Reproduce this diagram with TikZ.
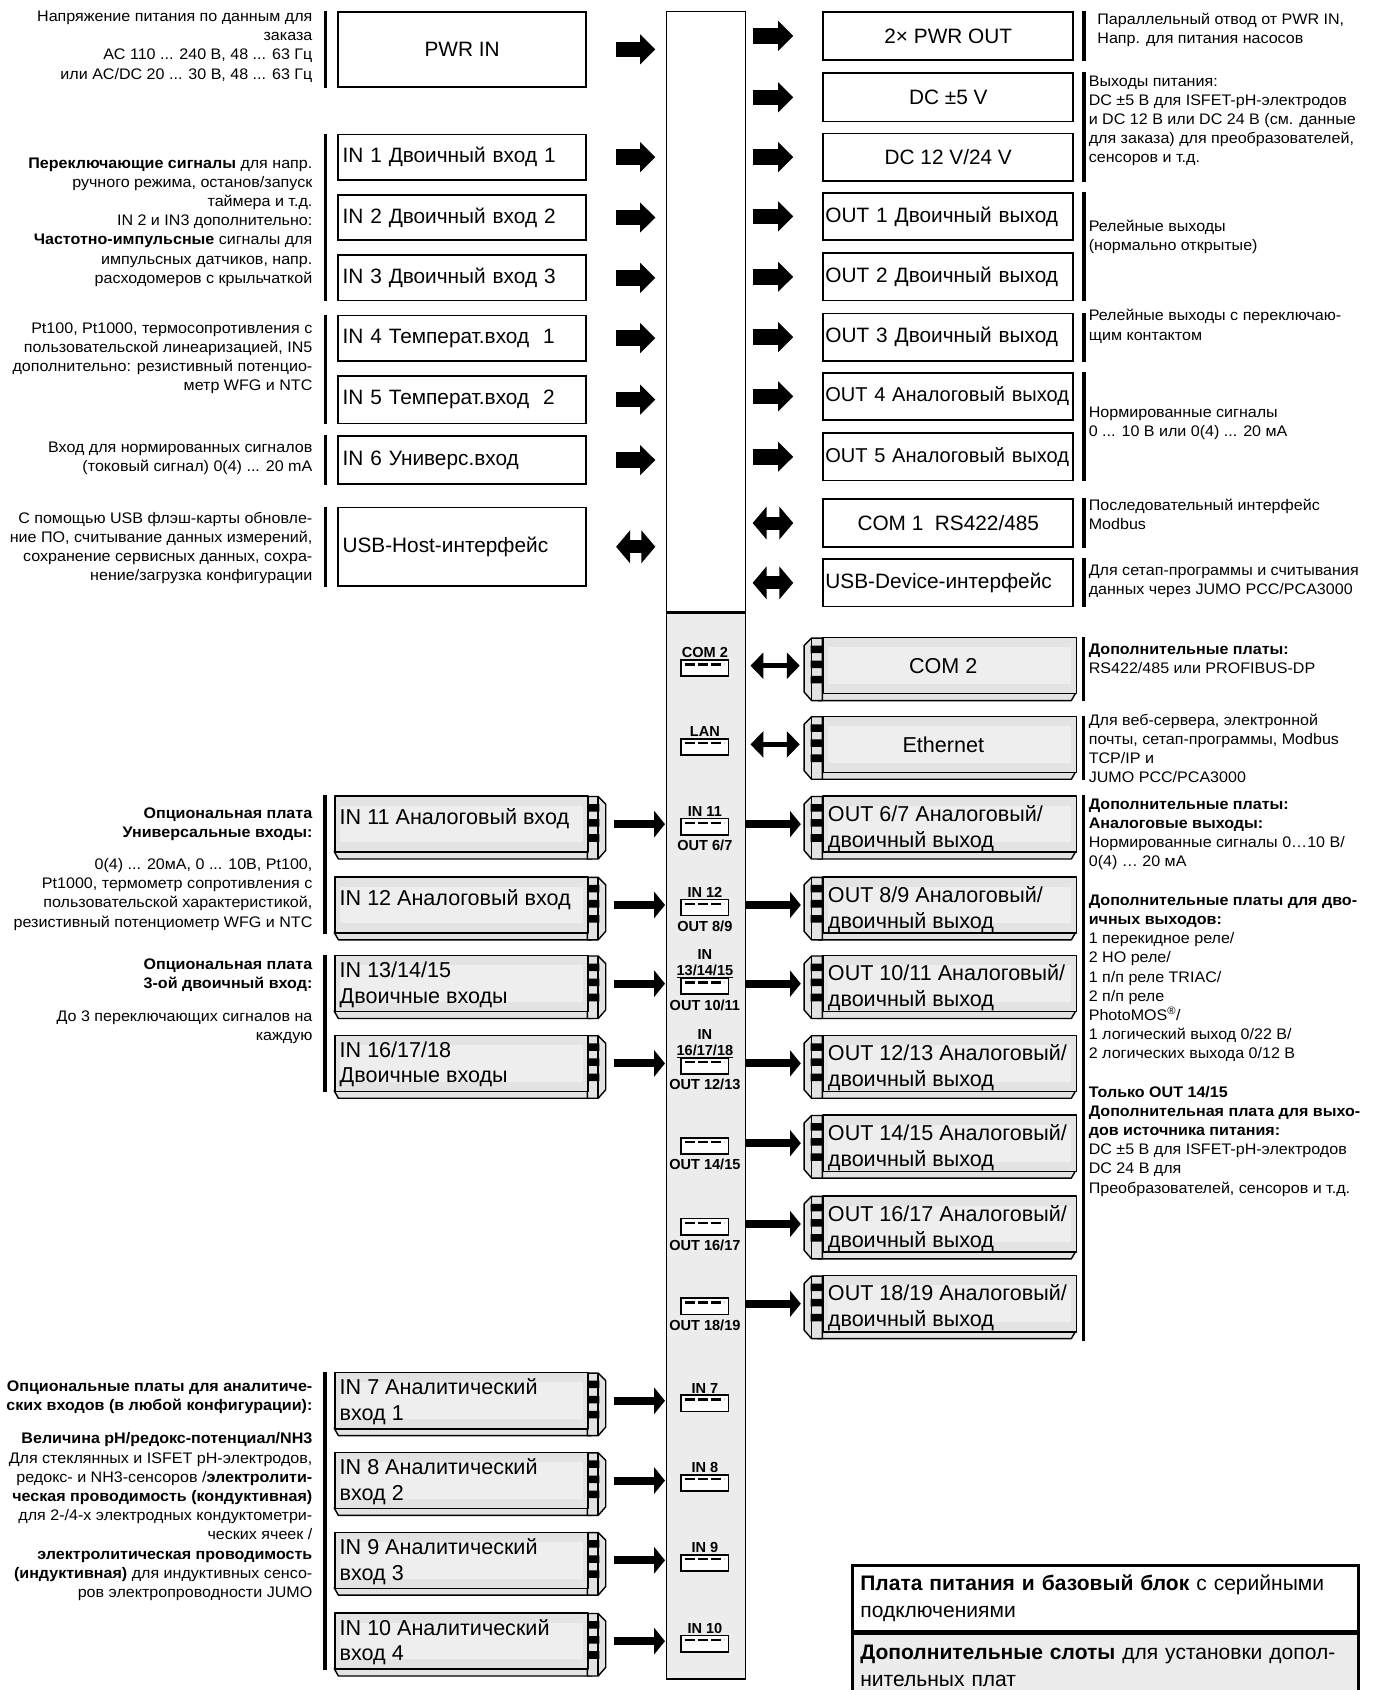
\documentclass[tikz,border=0pt]{standalone}
\usepackage{fontspec}
\setmainfont{Liberation Sans}
\newfontfamily\descfamily[FakeStretch=1.05]{Liberation Sans}
\usetikzlibrary{arrows.meta}
\definecolor{cardgray}{gray}{0.89}
\definecolor{innergray}{gray}{0.935}
\definecolor{busgray}{gray}{0.925}
\newcommand\descfont{\descfamily\fontsize{14.2}{17.8}\selectfont}
\newcommand\boxfont{\fontsize{19.3}{24}\selectfont}
\newcommand\cardfont{\fontsize{20}{24}\selectfont}
\newcommand\slotfont{\bfseries\fontsize{13.5}{15}\selectfont}
\newcommand\legendfont{\fontsize{19.5}{25.5}\selectfont}
\tikzset{
  tbox/.style={draw, line width=1.6pt, fill=white, minimum width=230pt, minimum height=44pt, inner sep=0pt, font=\boxfont, anchor=north west},
  lbox/.style={tbox, text width=222pt, align=left},
  rbox/.style={tbox, minimum width=232pt},
  rlbox/.style={rbox, text width=228pt, align=left},
  busbox/.style={draw, line width=1.3pt, minimum width=73pt, inner sep=0pt, anchor=north west},
  cardline/.style={line width=1.3pt, line join=round},
  cardface/.style={draw, cardline, fill=cardgray, minimum width=235pt, minimum height=52pt, inner sep=0pt, font=\cardfont, anchor=north west,
    path picture={\fill[innergray] ([shift={(5,9)}]path picture bounding box.north west) rectangle ([shift={(-5,-9)}]path picture bounding box.south east);}},
  cardtext/.style={font=\cardfont, align=left, inner sep=0pt, anchor=north west},
  slot/.style={draw, line width=1.6pt, fill=white, minimum width=44pt, minimum height=15pt, inner sep=0pt,
    path picture={\draw[line width=2pt, dash pattern=on 9pt off 3pt]
      ([shift={(4,4)}]path picture bounding box.north west) -- ([shift={(-4,4)}]path picture bounding box.north east);}},
  slotlbl/.style={font=\slotfont, inner sep=0pt, align=center},
  ldesc/.style={font=\descfont, align=right, inner sep=0pt, anchor=north east},
  rdesc/.style={font=\descfont, align=left, inner sep=0pt, anchor=north west},
  bracket/.style={line width=3.5pt},
  fat/.style={line width=14.5pt, -{Triangle[length=14pt,width=27pt]}},
  fatboth/.style={line width=12pt, {Triangle[length=13pt,width=30pt]}-{Triangle[length=13pt,width=30pt]}},
  bar/.style={line width=7.5pt, -{Triangle[length=10pt,width=24pt]}},
  barboth/.style={line width=5pt, {Triangle[length=12pt,width=24pt]}-{Triangle[length=12pt,width=24pt]}},
  legend/.style={draw, line width=2.5pt, minimum width=469pt, text width=455pt, align=left, inner xsep=7pt, font=\legendfont, anchor=north west},
}
\newcommand{\cardbits}[3]{%
  \begin{scope}[shift={(#1,#2)}, xscale=#3]
    \draw[cardline, fill=cardgray] (-235,52) -- (-231,59) -- (4,59) -- (0,52) -- cycle;
    \draw[cardline, fill=cardgray] (0,1) -- (10,1) -- (17,8) -- (17,51) -- (10,59) -- (0,59) -- cycle;
    \draw[cardline] (10,1) -- (10,59);
    \fill (0,8) rectangle (11,15) (0,22) rectangle (11,29) (0,36) rectangle (11,43);
  \end{scope}}

\begin{document}
\begin{tikzpicture}[x=1pt, y=-1pt]
\useasboundingbox (0,0) rectangle (1274,1568);

\node[busbox, fill=white, minimum height=558pt] (bus) at (618,10) {};
\node[busbox, fill=busgray, minimum height=989pt] (slots) at (618,568) {};
\draw[line width=2.5pt] (slots.north west) -- (slots.north east);

\node[tbox, minimum height=70pt] (pwrin) at (313,10) {PWR IN};
\node[lbox, minimum height=42pt] (in1) at (313,124) {IN 1 Двоичный вход 1};
\node[lbox, minimum height=42pt] (in2) at (313,180) {IN 2 Двоичный вход 2};
\node[lbox, minimum height=42pt] (in3) at (313,236) {IN 3 Двоичный вход 3};
\node[lbox, minimum height=42pt] (in4) at (313,292) {IN 4 Температ.вход~ 1};
\node[lbox] (in5) at (313,348) {IN 5 Температ.вход~ 2};
\node[lbox] (in6) at (313,404) {IN 6 Универс.вход};
\node[lbox, minimum height=73pt] (usbhost) at (313,470) {USB-Host-интерфейс};

\node[rbox, minimum height=45pt] (pwrout) at (763,10) {2× PWR OUT};
\node[rbox, minimum height=45pt] (dc5) at (763,67) {DC ±5 V};
\node[rbox] (dc12) at (763,123) {DC 12 V/24 V};
\node[rlbox] (out1) at (763,178) {OUT 1 Двоичный выход};
\node[rlbox] (out2) at (763,234) {OUT 2 Двоичный выход};
\node[rlbox] (out3) at (763,290) {OUT 3 Двоичный выход};
\node[rlbox, font=\fontsize{18.6}{24}\selectfont] (out4) at (763,345) {OUT 4 Аналоговый выход};
\node[rlbox, font=\fontsize{18.6}{24}\selectfont] (out5) at (763,401) {OUT 5 Аналоговый выход};
\node[rbox, minimum height=45pt] (com1) at (763,462) {COM 1~ RS422/485};
\node[rlbox] (usbdev) at (763,518) {USB-Device-интерфейс};

\foreach \b in {pwrin,in1,in2,in3,in4,in5,in6}
  \draw[fat, shorten <=27pt, shorten >=10pt] (\b.east) -- (\b.east -| bus.west);
\draw[fatboth, shorten <=27pt, shorten >=10pt] (usbhost.east) -- (usbhost.east -| bus.west);
\foreach \b in {pwrout,dc5,dc12,out1,out2,out3,out4,out5}
  \draw[fat, shorten <=6pt, shorten >=27pt] (bus.east |- \b.west) -- (\b.west);
\foreach \b in {com1,usbdev}
  \draw[fatboth, shorten <=6pt, shorten >=27pt] (bus.east |- \b.west) -- (\b.west);

\draw[bracket] ([xshift=-11pt]pwrin.north west) -- ([xshift=-11pt]pwrin.south west);
\draw[bracket] ([xshift=-11pt]in1.north west) -- ([xshift=-11pt]in3.south west);
\draw[bracket] ([xshift=-11pt]in4.north west) -- ([xshift=-11pt]in5.south west);
\draw[bracket] ([xshift=-11pt]in6.north west) -- ([xshift=-11pt]in6.south west);
\draw[bracket] ([xshift=-11pt]usbhost.north west) -- ([xshift=-11pt]usbhost.south west);
\draw[bracket] ([xshift=9pt]pwrout.north east) -- ([xshift=9pt]pwrout.south east);
\draw[bracket] ([xshift=9pt]dc5.north east) -- ([xshift=9pt]dc12.south east);
\draw[bracket] ([xshift=9pt]out1.north east) -- ([xshift=9pt]out2.south east);
\draw[bracket] ([xshift=9pt]out3.north east) -- ([xshift=9pt]out3.south east);
\draw[bracket] ([xshift=9pt]out4.north east) -- ([xshift=9pt]out5.south east);
\draw[bracket] ([xshift=9pt]com1.north east) -- ([xshift=9pt]com1.south east);
\draw[bracket] ([xshift=9pt]usbdev.north east) -- ([xshift=9pt]usbdev.south east);

\cardbits{545}{738}{1}  \node[cardface] (in11) at (310,738) {};
\cardbits{545}{813}{1}  \node[cardface] (in12) at (310,813) {};
\cardbits{545}{886}{1}  \node[cardface] (in13) at (310,886) {};
\cardbits{545}{960}{1}  \node[cardface] (in16) at (310,960) {};
\cardbits{545}{1273}{1} \node[cardface] (in7) at (310,1273) {};
\cardbits{545}{1347}{1} \node[cardface] (in8) at (310,1347) {};
\cardbits{545}{1421}{1} \node[cardface] (in9) at (310,1421) {};
\cardbits{545}{1496}{1} \node[cardface] (in10) at (310,1496) {};
\node[cardtext] (in11t) at (315,750) {IN 11 Аналоговый вход};
\node[cardtext] (in12t) at (315,825) {IN 12 Аналоговый вход};
\node[cardtext] (in13t) at (315,892) {IN 13/14/15\\Двоичные входы};
\node[cardtext] (in16t) at (315,966) {IN 16/17/18\\Двоичные входы};
\node[cardtext] (in7t) at (315,1279) {IN 7 Аналитический\\вход 1};
\node[cardtext] (in8t) at (315,1353) {IN 8 Аналитический\\вход 2};
\node[cardtext] (in9t) at (315,1427) {IN 9 Аналитический\\вход 3};
\node[cardtext] (in10t) at (315,1502) {IN 10 Аналитический\\вход 4};

\cardbits{763}{591}{-1}  \node[cardface] (com2) at (763,591) {COM 2\hspace*{12pt}};
\cardbits{763}{664}{-1}  \node[cardface] (eth) at (763,664) {Ethernet\hspace*{12pt}};
\cardbits{763}{738}{-1}  \node[cardface] (out67) at (763,738) {};
\cardbits{763}{813}{-1}  \node[cardface] (out89) at (763,813) {};
\cardbits{763}{886}{-1}  \node[cardface] (out1011) at (763,886) {};
\cardbits{763}{960}{-1}  \node[cardface] (out1213) at (763,960) {};
\cardbits{763}{1034}{-1} \node[cardface] (out1415) at (763,1034) {};
\cardbits{763}{1109}{-1} \node[cardface] (out1617) at (763,1109) {};
\cardbits{763}{1183}{-1} \node[cardface] (out1819) at (763,1183) {};
\node[cardtext] (out67t) at (768,747) {OUT 6/7 Аналоговый/\\двоичный выход};
\node[cardtext] (out89t) at (768,822) {OUT 8/9 Аналоговый/\\двоичный выход};
\node[cardtext] (out1011t) at (768,895) {OUT 10/11 Аналоговый/\\двоичный выход};
\node[cardtext] (out1213t) at (768,969) {OUT 12/13 Аналоговый/\\двоичный выход};
\node[cardtext] (out1415t) at (768,1043) {OUT 14/15 Аналоговый/\\двоичный выход};
\node[cardtext] (out1617t) at (768,1118) {OUT 16/17 Аналоговый/\\двоичный выход};
\node[cardtext] (out1819t) at (768,1192) {OUT 18/19 Аналоговый/\\двоичный выход};

\node[slot] (scom2) at (654,620) {};
\node[slot] (slan) at (654,693) {};
\node[slot] (s11) at (654,767) {};
\node[slot] (s12) at (654,842) {};
\node[slot] (s13) at (654,915) {};
\node[slot] (s16) at (654,989) {};
\node[slot] (s1415) at (654,1063) {};
\node[slot] (s1617) at (654,1138) {};
\node[slot] (s1819) at (654,1212) {};
\node[slot] (s7) at (654,1302) {};
\node[slot] (s8) at (654,1376) {};
\node[slot] (s9) at (654,1450) {};
\node[slot] (s10) at (654,1525) {};
\node[slotlbl, anchor=south] (lcom2) at ([yshift=-1pt]scom2.north) {\underline{COM 2}};
\node[slotlbl, anchor=south] (llan) at ([yshift=-1pt]slan.north) {\underline{LAN}};
\node[slotlbl, anchor=south] (l11) at ([yshift=-1pt]s11.north) {\underline{IN 11}};
\node[slotlbl, anchor=south] (l12) at ([yshift=-1pt]s12.north) {\underline{IN 12}};
\node[slotlbl, anchor=south] (l13) at ([yshift=-1pt]s13.north) {IN\\\underline{13/14/15}};
\node[slotlbl, anchor=south] (l16) at ([yshift=-1pt]s16.north) {IN\\\underline{16/17/18}};
\node[slotlbl, anchor=south] (l7) at ([yshift=-1pt]s7.north) {\underline{IN 7}};
\node[slotlbl, anchor=south] (l8) at ([yshift=-1pt]s8.north) {\underline{IN 8}};
\node[slotlbl, anchor=south] (l9) at ([yshift=-1pt]s9.north) {\underline{IN 9}};
\node[slotlbl, anchor=south] (l10) at ([yshift=-1pt]s10.north) {\underline{IN 10}};
\node[slotlbl, anchor=north] (o67) at ([yshift=-4pt]s11.south) {OUT 6/7};
\node[slotlbl, anchor=north] (o89) at ([yshift=-4pt]s12.south) {OUT 8/9};
\node[slotlbl, anchor=north] (o1011) at ([yshift=-4pt]s13.south) {OUT 10/11};
\node[slotlbl, anchor=north] (o1213) at ([yshift=-4pt]s16.south) {OUT 12/13};
\node[slotlbl, anchor=north] (o1415) at ([yshift=-4pt]s1415.south) {OUT 14/15};
\node[slotlbl, anchor=north] (o1617) at ([yshift=-4pt]s1617.south) {OUT 16/17};
\node[slotlbl, anchor=north] (o1819) at ([yshift=-4pt]s1819.south) {OUT 18/19};

\foreach \c in {in11,in12,in13,in16,in7,in8,in9,in10}
  \draw[bar, shorten <=23pt, shorten >=1pt] (\c.east) -- (\c.east -| slots.west);
\foreach \c in {out67,out89,out1011,out1213,out1415,out1617,out1819}
  \draw[bar, shorten >=20pt] (slots.east |- \c.west) -- (\c.west);
\foreach \c in {com2,eth}
  \draw[barboth, shorten <=4pt, shorten >=21pt] (slots.east |- \c.west) -- (\c.west);

\draw[bracket] ([xshift=-8.5pt]in11.north west) -- ([xshift=-8.5pt]in12.south west);
\draw[bracket] ([xshift=-8.5pt]in13.north west) -- ([xshift=-8.5pt]in16.south west);
\draw[bracket] ([xshift=-8.5pt]in7.north west) -- ([xshift=-8.5pt]in10.south west);
\draw[bracket] ([xshift=6pt]com2.north east) -- ([xshift=6pt,yshift=-6pt]com2.south east);
\draw[bracket] ([xshift=6pt]eth.north east) -- ([xshift=6pt,yshift=-6pt]eth.south east);
\draw[bracket] ([xshift=6pt]out67.north east) -- ([xshift=6pt,yshift=-8pt]out1819.south east);

\node[ldesc] (d1) at (290,10) {Напряжение питания по данным для\\заказа\\AC 110 ... 240 В, 48 ... 63 Гц\\или AC/DC 20 ... 30 В, 48 ... 63 Гц};
\node[ldesc] (d2) at (290,146) {\textbf{Переключающие сигналы} для напр.\\ручного режима, останов/запуск\\таймера и т.д.\\IN 2 и IN3 дополнительно:\\\textbf{Частотно-импульсные} сигналы для\\импульсных датчиков, напр.\\расходомеров с крыльчаткой};
\node[ldesc] (d3) at (290,299) {Pt100, Pt1000, термосопротивления с\\пользовательской линеаризацией, IN5\\дополнительно: резистивный потенцио-\\метр WFG и NTC};
\node[ldesc] (d4) at (290,410) {Вход для нормированных сигналов\\(токовый сигнал) 0(4) ... 20 mA};
\node[ldesc] (d5) at (290,475) {С помощью USB флэш-карты обновле-\\ние ПО, считывание данных измерений,\\сохранение сервисных данных, сохра-\\нение/загрузка конфигурации};
\node[ldesc] (d6) at (290,749) {\textbf{Опциональная плата}\\\textbf{Универсальные входы:}\\[12pt]0(4) ... 20мА, 0 ... 10В, Pt100,\\Pt1000, термометр сопротивления с\\пользовательской характеристикой,\\резистивный потенциометр WFG и NTC};
\node[ldesc] (d7) at (290,889) {\textbf{Опциональная плата}\\\textbf{3-ой двоичный вход:}\\[13pt]До 3 переключающих сигналов на\\каждую};
\node[ldesc] (d8) at (290,1281) {\textbf{Опциональные платы для аналитиче-}\\\textbf{ских входов (в любой конфигурации):}\\[13pt]\textbf{Величина pH/редокс-потенциал/NH3}\\Для стеклянных и ISFET pH-электродов,\\редокс- и NH3-сенсоров /\textbf{электролити-}\\\textbf{ческая проводимость (кондуктивная)}\\для 2-/4-х электродных кондуктометри-\\ческих ячеек /\\\textbf{электролитическая проводимость}\\\textbf{(индуктивная)} для индуктивных сенсо-\\ров электропроводности JUMO};

\node[rdesc] (r1) at (1018,12) {Параллельный отвод от PWR IN,\\Напр. для питания насосов};
\node[rdesc] (r2) at (1010,70) {Выходы питания:\\DC ±5 В для ISFET-pH-электродов\\и DC 12 В или DC 24 В (см. данные\\для заказа) для преобразователей,\\сенсоров и т.д.};
\node[rdesc] (r3) at (1010,204) {Релейные выходы\\(нормально открытые)};
\node[rdesc] (r4) at (1010,287) {Релейные выходы с переключаю-\\щим контактом};
\node[rdesc] (r5) at (1010,377) {Нормированные сигналы\\0 ... 10 В или 0(4) ... 20 мА};
\node[rdesc] (r6) at (1010,463) {Последовательный интерфейс\\Modbus};
\node[rdesc] (r7) at (1010,524) {Для сетап-программы и считывания\\данных через JUMO PCC/PCA3000};
\node[rdesc] (r8) at (1010,597) {\textbf{Дополнительные платы:}\\RS422/485 или PROFIBUS-DP};
\node[rdesc] (r9) at (1010,662) {Для веб-сервера, электронной\\почты, сетап-программы, Modbus\\TCP/IP и\\JUMO PCC/PCA3000};
\node[rdesc] (r10) at (1010,741) {\textbf{Дополнительные платы:}\\\textbf{Аналоговые выходы:}\\Нормированные сигналы 0…10 В/\\0(4) … 20 мА\\[17.8pt]\textbf{Дополнительные платы для дво-}\\\textbf{ичных выходов:}\\1 перекидное реле/\\2 НО реле/\\1 п/п реле TRIAC/\\2 п/п реле\\PhotoMOS\textsuperscript{®}/\\1 логический выход 0/22 В/\\2 логических выхода 0/12 В\\[17.8pt]\textbf{Только OUT 14/15}\\\textbf{Дополнительная плата для выхо-}\\\textbf{дов источника питания:}\\DC ±5 В для ISFET-pH-электродов\\DC 24 В для\\Преобразователей, сенсоров и т.д.};

\node[legend, fill=white, minimum height=61pt] (base) at (790,1451) {\textbf{Плата питания и базовый блок} с серийными\\подключениями};
\node[legend, fill=busgray, minimum height=60pt] (extra) at (base.south west) {\textbf{Дополнительные слоты} для установки допол-\\нительных плат};
\end{tikzpicture}
\end{document}
